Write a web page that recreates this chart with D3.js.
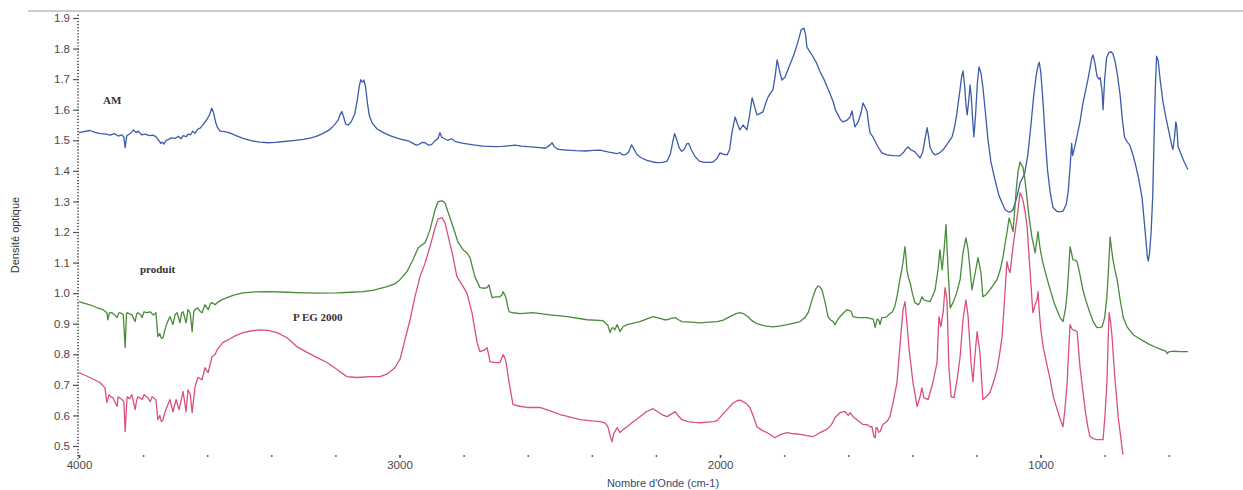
<!DOCTYPE html>
<html>
<head>
<meta charset="utf-8">
<script src="https://cdn.jsdelivr.net/npm/d3@7"></script>
<style>
  html, body { margin: 0; padding: 0; background: #fff; }
  svg { display: block; }
</style>
</head>
<body>
<svg id="chart" width="1243" height="490"></svg>
<script>
// IR absorbance spectra: [wavenumber (cm-1), optical density]
const amSpectrum = [
  [4000,1.525],[3985,1.528],[3966,1.532],[3950,1.526],[3934,1.522],[3915,1.520],[3903,1.517],[3890,1.522],
  [3878,1.514],[3866,1.518],[3860,1.510],[3856,1.476],[3851,1.515],[3840,1.522],[3830,1.534],[3822,1.525],
  [3815,1.530],[3805,1.518],[3794,1.520],[3780,1.515],[3770,1.517],[3760,1.512],[3750,1.498],[3745,1.490],
  [3740,1.494],[3735,1.488],[3728,1.500],[3720,1.503],[3712,1.508],[3700,1.506],[3690,1.513],[3682,1.505],
  [3675,1.515],[3665,1.512],[3660,1.520],[3652,1.518],[3645,1.530],[3638,1.523],[3630,1.536],[3622,1.540],
  [3612,1.552],[3601,1.568],[3592,1.585],[3586,1.605],[3580,1.590],[3574,1.560],[3568,1.542],[3560,1.530],
  [3545,1.528],[3530,1.524],[3510,1.515],[3488,1.506],[3460,1.498],[3435,1.494],[3410,1.492],[3388,1.493],
  [3360,1.496],[3332,1.499],[3300,1.503],[3279,1.507],[3260,1.513],[3240,1.522],[3220,1.533],[3205,1.548],
  [3192,1.565],[3185,1.585],[3180,1.594],[3174,1.575],[3168,1.553],[3160,1.550],[3150,1.562],[3140,1.585],
  [3132,1.630],[3126,1.675],[3121,1.698],[3116,1.690],[3111,1.697],[3106,1.675],[3100,1.620],[3094,1.580],
  [3085,1.556],[3070,1.537],[3050,1.525],[3030,1.515],[3000,1.505],[2970,1.497],[2958,1.490],[2948,1.484],
  [2940,1.486],[2930,1.493],[2920,1.492],[2910,1.484],[2900,1.486],[2890,1.498],[2880,1.505],[2874,1.525],
  [2868,1.510],[2860,1.505],[2850,1.500],[2838,1.505],[2825,1.496],[2800,1.490],[2770,1.485],[2740,1.481],
  [2700,1.479],[2680,1.480],[2660,1.482],[2640,1.484],[2620,1.481],[2600,1.479],[2570,1.477],[2545,1.474],
  [2530,1.485],[2524,1.492],[2518,1.480],[2505,1.470],[2480,1.468],[2450,1.466],[2420,1.465],[2395,1.467],
  [2375,1.468],[2350,1.462],[2334,1.459],[2322,1.456],[2313,1.460],[2304,1.452],[2295,1.453],[2285,1.462],
  [2276,1.485],[2268,1.470],[2258,1.452],[2245,1.442],[2228,1.434],[2210,1.429],[2197,1.427],[2180,1.428],
  [2165,1.432],[2155,1.455],[2148,1.492],[2142,1.522],[2136,1.505],[2128,1.477],[2120,1.464],[2112,1.470],
  [2104,1.488],[2098,1.490],[2090,1.470],[2080,1.450],[2065,1.432],[2050,1.428],[2030,1.428],[2022,1.429],
  [2010,1.440],[2000,1.459],[1990,1.455],[1978,1.452],[1970,1.470],[1963,1.524],[1953,1.576],[1946,1.555],
  [1938,1.534],[1928,1.550],[1916,1.534],[1908,1.580],[1900,1.639],[1892,1.610],[1885,1.583],[1875,1.588],
  [1866,1.593],[1858,1.620],[1850,1.642],[1842,1.655],[1835,1.665],[1828,1.710],[1822,1.763],[1815,1.730],
  [1807,1.697],[1797,1.707],[1785,1.740],[1772,1.773],[1764,1.798],[1757,1.822],[1751,1.845],[1747,1.861],
  [1738,1.867],[1733,1.845],[1729,1.805],[1720,1.790],[1713,1.779],[1700,1.755],[1688,1.724],[1676,1.700],
  [1666,1.675],[1656,1.650],[1647,1.626],[1640,1.600],[1632,1.583],[1624,1.567],[1616,1.560],[1605,1.565],
  [1598,1.572],[1594,1.577],[1588,1.596],[1584,1.570],[1579,1.544],[1569,1.560],[1560,1.590],[1554,1.622],
  [1548,1.610],[1541,1.593],[1536,1.550],[1532,1.524],[1523,1.511],[1507,1.478],[1495,1.459],[1479,1.452],
  [1460,1.450],[1439,1.449],[1428,1.460],[1420,1.472],[1414,1.478],[1405,1.470],[1392,1.462],[1382,1.450],
  [1376,1.442],[1368,1.460],[1361,1.501],[1354,1.541],[1349,1.510],[1345,1.478],[1337,1.460],[1329,1.452],
  [1316,1.458],[1304,1.469],[1290,1.490],[1276,1.511],[1268,1.545],[1261,1.590],[1252,1.660],[1246,1.710],
  [1242,1.727],[1237,1.680],[1233,1.620],[1229,1.583],[1224,1.630],[1220,1.681],[1216,1.640],[1212,1.570],
  [1208,1.511],[1203,1.580],[1197,1.690],[1192,1.740],[1186,1.720],[1180,1.675],[1172,1.590],[1164,1.501],
  [1155,1.430],[1142,1.370],[1130,1.320],[1120,1.295],[1110,1.272],[1101,1.266],[1093,1.266],[1086,1.273],
  [1075,1.310],[1064,1.360],[1050,1.390],[1040,1.450],[1030,1.550],[1022,1.640],[1014,1.710],[1008,1.745],
  [1004,1.755],[999,1.720],[992,1.620],[985,1.500],[978,1.400],[970,1.330],[961,1.280],[950,1.268],
  [940,1.266],[930,1.268],[920,1.290],[914,1.330],[908,1.410],[903,1.490],[900,1.450],[893,1.480],
  [885,1.520],[877,1.560],[868,1.620],[860,1.660],[852,1.700],[845,1.740],[840,1.770],[836,1.779],
  [830,1.750],[824,1.710],[818,1.700],[814,1.705],[808,1.660],[805,1.600],[800,1.700],[794,1.770],
  [788,1.785],[781,1.790],[775,1.785],[768,1.760],[761,1.720],[752,1.650],[745,1.570],[738,1.510],
  [730,1.495],[722,1.485],[714,1.460],[705,1.426],[695,1.380],[688,1.340],[683,1.310],[677,1.240],
  [671,1.170],[667,1.120],[664,1.105],[660,1.130],[655,1.200],[650,1.320],[646,1.500],[642,1.670],
  [638,1.775],[633,1.760],[627,1.700],[618,1.625],[608,1.570],[598,1.520],[590,1.480],[587,1.470],
  [582,1.510],[578,1.560],[575,1.545],[571,1.480],[562,1.455],[552,1.430],[543,1.410],[540,1.405]
];

const produitSpectrum = [
  [4000,0.972],[3985,0.967],[3966,0.962],[3945,0.953],[3925,0.946],[3913,0.936],[3910,0.913],[3905,0.935],
  [3897,0.936],[3890,0.930],[3881,0.920],[3876,0.935],[3872,0.936],[3862,0.930],[3856,0.822],[3852,0.930],
  [3850,0.936],[3842,0.932],[3835,0.929],[3825,0.907],[3820,0.932],[3816,0.936],[3808,0.930],[3803,0.920],
  [3797,0.939],[3788,0.936],[3778,0.939],[3768,0.928],[3760,0.936],[3754,0.858],[3748,0.868],[3743,0.852],
  [3738,0.854],[3732,0.880],[3725,0.903],[3716,0.923],[3707,0.897],[3700,0.930],[3694,0.936],[3685,0.903],
  [3680,0.935],[3675,0.939],[3666,0.903],[3660,0.946],[3653,0.935],[3647,0.874],[3642,0.940],[3638,0.946],
  [3629,0.952],[3622,0.940],[3616,0.936],[3607,0.962],[3597,0.946],[3590,0.965],[3585,0.969],[3575,0.962],
  [3569,0.969],[3555,0.978],[3538,0.985],[3515,0.994],[3488,1.001],[3450,1.004],[3404,1.005],[3350,1.003],
  [3301,1.001],[3250,1.000],[3195,1.001],[3150,1.003],[3114,1.005],[3080,1.010],[3039,1.021],[3015,1.030],
  [2998,1.045],[2977,1.070],[2958,1.109],[2942,1.148],[2930,1.158],[2920,1.165],[2905,1.207],[2889,1.273],
  [2880,1.299],[2867,1.302],[2858,1.295],[2849,1.266],[2833,1.217],[2818,1.168],[2800,1.140],[2790,1.132],
  [2780,1.116],[2765,1.054],[2749,1.018],[2735,1.016],[2727,1.018],[2721,1.027],[2716,1.005],[2711,0.985],
  [2700,0.988],[2687,0.988],[2680,0.995],[2677,1.005],[2672,0.995],[2668,0.985],[2662,0.955],[2658,0.939],
  [2640,0.935],[2624,0.933],[2584,0.936],[2531,0.929],[2477,0.923],[2415,0.913],[2365,0.910],[2350,0.895],
  [2343,0.871],[2338,0.885],[2334,0.887],[2328,0.880],[2321,0.897],[2316,0.885],[2312,0.874],[2303,0.890],
  [2290,0.897],[2270,0.902],[2250,0.907],[2230,0.915],[2209,0.923],[2190,0.918],[2175,0.913],[2165,0.913],
  [2150,0.918],[2140,0.920],[2130,0.913],[2119,0.907],[2090,0.905],[2062,0.903],[2035,0.905],[2009,0.907],
  [1990,0.912],[1969,0.923],[1950,0.933],[1938,0.936],[1925,0.932],[1913,0.923],[1900,0.910],[1885,0.900],
  [1860,0.893],[1835,0.890],[1810,0.893],[1791,0.897],[1770,0.902],[1750,0.907],[1735,0.920],[1725,0.936],
  [1718,0.960],[1710,0.988],[1702,1.012],[1694,1.024],[1688,1.020],[1682,1.011],[1677,0.990],[1672,0.969],
  [1663,0.923],[1655,0.912],[1647,0.907],[1641,0.897],[1634,0.912],[1626,0.923],[1615,0.935],[1604,0.946],
  [1598,0.944],[1591,0.940],[1585,0.923],[1570,0.920],[1563,0.920],[1541,0.920],[1530,0.917],[1522,0.915],
  [1516,0.887],[1510,0.915],[1505,0.912],[1501,0.897],[1495,0.920],[1487,0.921],[1479,0.923],[1470,0.934],
  [1464,0.936],[1455,0.955],[1448,0.988],[1439,1.044],[1433,1.076],[1428,1.110],[1423,1.152],[1420,1.120],
  [1417,1.076],[1412,1.050],[1407,1.034],[1400,1.000],[1392,0.969],[1382,0.962],[1376,0.970],[1370,0.988],
  [1364,0.978],[1355,0.975],[1345,0.972],[1337,0.990],[1329,1.011],[1320,1.076],[1314,1.142],[1307,1.076],
  [1301,1.142],[1295,1.224],[1289,1.086],[1282,0.952],[1273,0.969],[1262,1.000],[1251,1.044],[1242,1.132],
  [1233,1.181],[1226,1.142],[1214,1.011],[1208,1.044],[1195,1.116],[1186,1.067],[1180,0.988],[1170,0.995],
  [1158,1.011],[1145,1.030],[1136,1.044],[1125,1.080],[1117,1.119],[1111,1.160],[1105,1.197],[1098,1.246],
  [1092,1.225],[1086,1.201],[1080,1.280],[1076,1.338],[1070,1.400],[1064,1.429],[1060,1.420],[1055,1.413],
  [1050,1.380],[1045,1.338],[1036,1.250],[1027,1.184],[1017,1.132],[1012,1.170],[1008,1.201],[1002,1.150],
  [995,1.109],[983,1.060],[970,1.011],[955,0.960],[939,0.920],[930,0.907],[922,0.950],[917,1.001],
  [912,1.080],[908,1.152],[903,1.130],[899,1.109],[892,1.108],[886,1.103],[877,1.060],[868,1.011],
  [857,0.970],[846,0.936],[835,0.905],[824,0.887],[815,0.888],[808,0.890],[800,0.920],[793,0.988],
  [788,1.080],[783,1.184],[778,1.140],[774,1.109],[768,1.075],[761,1.044],[752,0.980],[742,0.920],
  [730,0.890],[711,0.864],[690,0.850],[670,0.838],[658,0.831],[640,0.823],[625,0.816],[612,0.811],
  [608,0.809],[605,0.802],[600,0.808],[585,0.810],[565,0.809],[540,0.809]
];

const pegSpectrum = [
  [4000,0.740],[3985,0.733],[3966,0.724],[3950,0.716],[3934,0.707],[3919,0.690],[3913,0.642],[3906,0.668],
  [3900,0.660],[3894,0.658],[3881,0.629],[3878,0.661],[3866,0.652],[3860,0.645],[3856,0.547],[3850,0.661],
  [3842,0.655],[3835,0.668],[3825,0.619],[3820,0.650],[3816,0.661],[3803,0.652],[3797,0.668],[3785,0.658],
  [3778,0.645],[3772,0.661],[3760,0.652],[3754,0.586],[3748,0.600],[3743,0.580],[3738,0.586],[3732,0.610],
  [3725,0.629],[3716,0.652],[3707,0.612],[3697,0.652],[3688,0.619],[3675,0.678],[3666,0.612],[3660,0.684],
  [3653,0.670],[3647,0.609],[3638,0.694],[3629,0.724],[3616,0.717],[3607,0.756],[3597,0.740],[3585,0.792],
  [3575,0.800],[3569,0.815],[3551,0.838],[3529,0.851],[3510,0.862],[3488,0.871],[3460,0.877],[3435,0.880],
  [3410,0.878],[3382,0.871],[3351,0.854],[3320,0.825],[3290,0.807],[3257,0.789],[3226,0.773],[3195,0.750],
  [3164,0.727],[3133,0.724],[3092,0.727],[3061,0.727],[3040,0.735],[3030,0.743],[3015,0.755],[3005,0.773],
  [2998,0.785],[2983,0.848],[2967,0.913],[2952,0.988],[2936,1.054],[2920,1.099],[2905,1.152],[2889,1.214],
  [2880,1.243],[2867,1.246],[2858,1.230],[2849,1.190],[2833,1.119],[2821,1.054],[2805,1.027],[2790,1.001],
  [2774,0.936],[2758,0.838],[2749,0.809],[2740,0.812],[2733,0.815],[2727,0.822],[2722,0.800],[2718,0.776],
  [2700,0.773],[2687,0.773],[2680,0.790],[2677,0.799],[2672,0.790],[2668,0.776],[2658,0.707],[2646,0.635],
  [2625,0.630],[2602,0.626],[2562,0.626],[2530,0.615],[2499,0.603],[2470,0.595],[2437,0.586],[2400,0.582],
  [2374,0.580],[2358,0.575],[2350,0.563],[2342,0.530],[2337,0.514],[2332,0.540],[2328,0.547],[2321,0.560],
  [2316,0.550],[2312,0.544],[2300,0.556],[2290,0.563],[2270,0.580],[2250,0.596],[2230,0.612],[2209,0.622],
  [2195,0.612],[2180,0.602],[2165,0.596],[2150,0.606],[2140,0.612],[2130,0.598],[2119,0.586],[2100,0.580],
  [2080,0.577],[2062,0.576],[2040,0.578],[2020,0.580],[2009,0.583],[1995,0.600],[1978,0.619],[1960,0.640],
  [1947,0.648],[1938,0.650],[1928,0.645],[1917,0.638],[1907,0.626],[1897,0.600],[1885,0.563],[1870,0.552],
  [1854,0.544],[1840,0.535],[1829,0.527],[1810,0.538],[1791,0.544],[1770,0.540],[1750,0.538],[1730,0.534],
  [1710,0.531],[1700,0.536],[1688,0.544],[1670,0.553],[1657,0.563],[1648,0.578],[1641,0.593],[1626,0.609],
  [1615,0.612],[1610,0.612],[1600,0.600],[1594,0.609],[1585,0.596],[1573,0.586],[1554,0.570],[1541,0.570],
  [1532,0.563],[1526,0.563],[1520,0.531],[1516,0.527],[1513,0.560],[1510,0.560],[1505,0.545],[1501,0.547],
  [1492,0.570],[1479,0.580],[1470,0.596],[1460,0.642],[1448,0.707],[1439,0.825],[1429,0.946],[1423,0.972],
  [1417,0.903],[1410,0.815],[1398,0.707],[1385,0.629],[1376,0.661],[1370,0.690],[1364,0.658],[1351,0.652],
  [1336,0.707],[1323,0.773],[1317,0.923],[1311,0.890],[1304,0.936],[1298,1.018],[1292,0.978],[1286,0.759],
  [1279,0.661],[1270,0.658],[1260,0.720],[1251,0.792],[1242,0.913],[1233,0.978],[1226,0.923],[1217,0.773],
  [1211,0.710],[1205,0.792],[1198,0.874],[1189,0.805],[1180,0.652],[1170,0.660],[1158,0.675],[1145,0.715],
  [1136,0.750],[1128,0.800],[1120,0.858],[1111,1.001],[1105,1.103],[1100,1.080],[1095,1.067],[1086,1.152],
  [1073,1.250],[1064,1.328],[1060,1.320],[1055,1.305],[1048,1.265],[1042,1.217],[1033,1.076],[1024,0.936],
  [1016,0.965],[1011,0.978],[1008,1.005],[1004,0.940],[999,0.880],[992,0.825],[980,0.765],[970,0.717],
  [960,0.660],[948,0.619],[938,0.585],[930,0.563],[924,0.620],[917,0.707],[912,0.820],[908,0.897],
  [903,0.885],[899,0.880],[892,0.878],[886,0.874],[877,0.759],[868,0.680],[861,0.619],[853,0.565],
  [846,0.531],[835,0.524],[824,0.521],[815,0.521],[805,0.521],[799,0.600],[793,0.707],[789,0.850],
  [786,0.936],[781,0.900],[777,0.858],[772,0.780],[767,0.707],[762,0.650],[758,0.596],[750,0.530],[743,0.472]
];

const seriesNames = ["AM", "produit", "P EG 2000"];
const seriesColors = ["#3b5ca8", "#4a8a3a", "#d9507a"];
const seriesLabelAt = [[3925, 1.619], [3810, 1.067], [3332, 0.910]];

const yTicks = [0.5,0.6,0.7,0.8,0.9,1.0,1.1,1.2,1.3,1.4,1.5,1.6,1.7,1.8,1.9];
const xTicks = [4000, 3000, 2000, 1000];
const xMinorTicks = d3.range(4000, 500, -200);

const svg = d3.select("#chart");

const x = d3.scaleLinear().domain([4000, 540]).range([79, 1188]);
const y = d3.scaleLinear().domain([0.5, 1.9]).range([446, 18]);

// thin rule across the top of the frame
svg.append("line")
  .attr("x1", 28).attr("x2", 1243).attr("y1", 11).attr("y2", 11)
  .attr("stroke", "#9a9a9a").attr("stroke-width", 1);

// y axis: fine dotted minor ticks, short major ticks, one-decimal labels
const yMinor = d3.range(46, 192).map(v => v / 100);
svg.append("g")
  .attr("transform", "translate(79,0)")
  .call(d3.axisLeft(y).tickValues(yMinor).tickSize(2).tickFormat(""))
  .call(g => g.select(".domain").remove())
  .call(g => g.selectAll(".tick line").attr("stroke", "#666").attr("stroke-width", 1.2));

svg.append("g")
  .attr("transform", "translate(79,0)")
  .call(d3.axisLeft(y).tickValues(yTicks).tickSize(6).tickPadding(3).tickFormat(d3.format(".1f")))
  .call(g => g.select(".domain").remove())
  .call(g => g.selectAll(".tick line").attr("stroke", "#555").attr("stroke-width", 1.2))
  .call(g => g.selectAll(".tick text")
    .attr("fill", "#4a4a4a").attr("font-family", "Liberation Sans, Arial, sans-serif")
    .attr("font-size", 11.5));

// x axis: dot ticks every 200 cm-1, labels at each 1000
svg.append("g")
  .attr("transform", "translate(0,455)")
  .call(d3.axisBottom(x).tickValues(xMinorTicks).tickSize(2).tickFormat(""))
  .call(g => g.select(".domain").remove())
  .call(g => g.selectAll(".tick line").attr("stroke", "#666").attr("stroke-width", 1.5));

svg.append("g")
  .attr("transform", "translate(0,455)")
  .call(d3.axisBottom(x).tickValues(xTicks).tickSize(3).tickPadding(3).tickFormat(d3.format("d")))
  .call(g => g.select(".domain").remove())
  .call(g => g.selectAll(".tick line").attr("stroke", "#555").attr("stroke-width", 1.5))
  .call(g => g.selectAll(".tick text")
    .attr("fill", "#4a4a4a").attr("font-family", "Liberation Sans, Arial, sans-serif")
    .attr("font-size", 11.5));

// axis titles
svg.append("text")
  .attr("x", 663).attr("y", 487)
  .attr("text-anchor", "middle")
  .attr("font-family", "Liberation Sans, Arial, sans-serif")
  .attr("font-size", 11)
  .attr("fill", "#34486e")
  .text("Nombre d'Onde (cm-1)");

svg.append("text")
  .attr("transform", "translate(19,235) rotate(-90)")
  .attr("text-anchor", "middle")
  .attr("font-family", "Liberation Sans, Arial, sans-serif")
  .attr("font-size", 11)
  .attr("fill", "#333")
  .text("Densité optique");

// spectra
const line = d3.line().x(d => x(d[0])).y(d => y(d[1]));
[amSpectrum, produitSpectrum, pegSpectrum].forEach((data, i) => {
  svg.append("path")
    .datum(data)
    .attr("d", line)
    .attr("fill", "none")
    .attr("stroke", seriesColors[i])
    .attr("stroke-width", 1.3)
    .attr("stroke-linejoin", "round");
});

// curve labels
seriesNames.forEach((name, i) => {
  svg.append("text")
    .attr("x", x(seriesLabelAt[i][0]))
    .attr("y", y(seriesLabelAt[i][1]))
    .attr("font-family", "Liberation Serif, Times New Roman, serif")
    .attr("font-weight", "bold")
    .attr("font-size", 11)
    .attr("fill", "#333")
    .text(name);
});
</script>
</body>
</html>
